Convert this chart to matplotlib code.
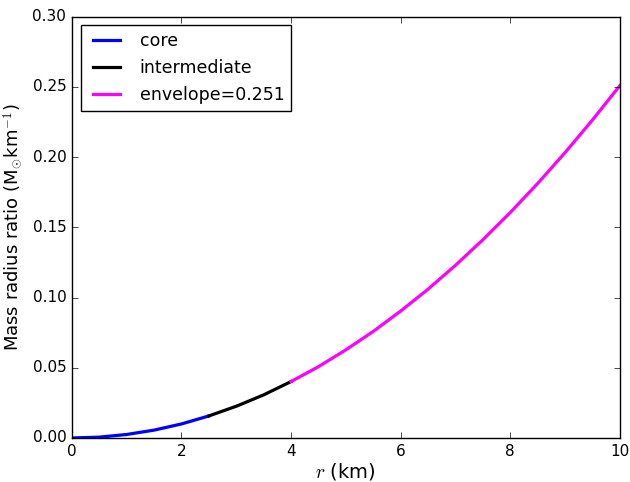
import matplotlib
matplotlib.use("Agg")
import matplotlib.pyplot as plt

plt.style.use('classic')

r_core = [0.0, 0.5, 1.0, 1.5, 2.0, 2.5]
m_core = [0.0, 0.0006, 0.0025, 0.0056, 0.0100, 0.0157]

r_inter = [2.5, 3.0, 3.5, 4.0]
m_inter = [0.0157, 0.0226, 0.0307, 0.0402]

r_env = [4.0, 4.5, 5.0, 5.5, 6.0, 6.5, 7.0, 7.5, 8.0, 8.5, 9.0, 9.5, 10.0]
m_env = [0.0402, 0.0508, 0.0628, 0.0759, 0.0904, 0.1060, 0.1230, 0.1412,
         0.1606, 0.1813, 0.2033, 0.2265, 0.2510]

labels = ["core", "intermediate", "envelope=0.251"]

fig = plt.figure(figsize=(6.3, 4.82), dpi=100, facecolor='white')
ax = fig.add_axes([0.114, 0.0913, 0.870, 0.874])
ax.plot(r_core, m_core, color='blue', lw=2.3, label=labels[0])
ax.plot(r_inter, m_inter, color='black', lw=2.3, label=labels[1])
ax.plot(r_env, m_env, color='magenta', lw=2.3, label=labels[2])
ax.set_xlim(0, 10)
ax.set_ylim(0, 0.30)
ax.set_xlabel(r"$r$ (km)", fontsize=14, labelpad=2)
ax.set_ylabel(r"Mass radius ratio (M$_{\odot}$km$^{-1}$)", fontsize=13)
ax.tick_params(labelsize=11)
ax.legend(loc='upper left', fontsize=12.5, handlelength=2.2)
fig.savefig("out.png", dpi=100, facecolor='white')
